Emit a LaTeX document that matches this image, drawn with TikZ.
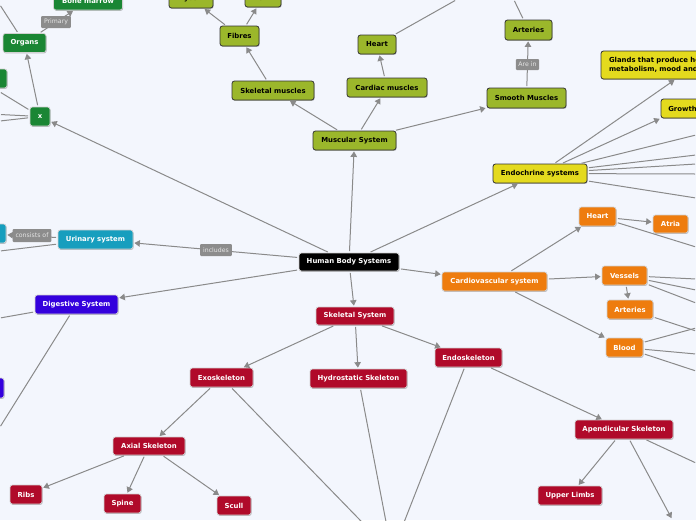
\documentclass[tikz,border=0pt]{standalone}
\usepackage{fontspec}
\setmainfont{DejaVu Sans}
\usetikzlibrary{arrows.meta,shadows}
\definecolor{bg}{RGB}{243,246,253}
\definecolor{conncol}{RGB}{138,138,138}
\definecolor{lblc}{RGB}{140,140,140}
\definecolor{cgreen}{RGB}{26,134,52}
\definecolor{colive}{RGB}{155,183,43}
\definecolor{cyellow}{RGB}{228,218,30}
\definecolor{cteal}{RGB}{23,158,190}
\definecolor{cblue}{RGB}{52,0,221}
\definecolor{corange}{RGB}{238,124,14}
\definecolor{cred}{RGB}{176,10,42}
\tikzset{
  box/.style={rounded corners=2.5pt, minimum height=19pt, inner sep=0pt,
    font=\fontsize{6.9}{8.3}\selectfont\bfseries,
    drop shadow={shadow xshift=0.6pt, shadow yshift=-0.9pt, opacity=0.25, fill=black}},
  wbox/.style={box, draw=white!82!black, line width=0.7pt, text=white, fill=#1},
  dbox/.style={box, draw=black!80, line width=0.8pt, text=black, fill=#1},
  gnode/.style={wbox=cgreen},
  mnode/.style={dbox=colive},
  ynode/.style={dbox=cyellow},
  tnode/.style={wbox=cteal},
  bnode/.style={wbox=cblue},
  onode/.style={wbox=corange},
  rnode/.style={wbox=cred},
  knode/.style={wbox=black},
  lbl/.style={fill=lblc, rounded corners=1pt, text=white!90!black,
    font=\fontsize{6.2}{7}\selectfont, inner xsep=3pt, inner ysep=0pt, minimum height=12pt},
  link/.style={draw=conncol, line width=1pt, shorten <=1.5pt, shorten >=1pt},
  arr/.style={link, -{Triangle[length=5.5pt,width=6.5pt]}},
}
\begin{document}
\begin{tikzpicture}[x=1pt,y=-1pt]
\useasboundingbox (0,0) rectangle (696,520);
\fill[bg] (0,0) rectangle (696,520);
\clip (0,0) rectangle (696,520);

% green
\node[gnode, minimum width=69pt, minimum height=18pt] (bonem) at (88,1) {Bone marrow};
\node[gnode, minimum width=43pt] (organs) at (24.5,43) {Organs};
\node[gnode, minimum width=44pt] (gleft) at (-15,78.5) {};
\node[gnode, minimum width=20pt] (xnode) at (40,116.5) {x};

% muscular
\node[mnode, minimum width=44pt] (myosin) at (191,-1.5) {Myosin};
\node[mnode, minimum width=36pt] (actin) at (263,-2.5) {Actin};
\node[mnode, minimum width=39pt, minimum height=20pt] (fibres) at (239.5,36) {Fibres};
\node[mnode, minimum width=82pt] (skm) at (273,90.5) {Skeletal muscles};
\node[mnode, minimum width=38pt] (mheart) at (377,44.5) {Heart};
\node[mnode, minimum width=80pt] (cardm) at (387,87.5) {Cardiac muscles};
\node[mnode, minimum width=83pt] (musc) at (354.5,140.5) {Muscular System};
\node[mnode, minimum width=47pt, minimum height=20pt] (marter) at (528.5,30) {Arteries};
\node[mnode, minimum width=79pt, minimum height=20pt] (smooth) at (526.5,98) {Smooth Muscles};

% endocrine
\node[ynode, minimum width=94pt] (endo) at (540,173.5) {Endochrine systems};
\node[ynode, minimum width=190pt, minimum height=28pt, text width=174pt, align=left] (glands) at (696,65) {Glands that produce hormones that\\metabolism, mood and growth};
\node[ynode, minimum width=80pt] (growth) at (701,108.5) {Growth hormone};

% centre
\node[knode, minimum width=100pt, minimum height=18pt] (hbs) at (349,262) {Human Body Systems};

% urinary / digestive
\node[tnode, minimum width=52pt] (uleft) at (-20,233.5) {};
\node[tnode, minimum width=75pt] (urin) at (95.5,239.5) {Urinary system};
\node[bnode, minimum width=83pt] (dig) at (76.5,304.5) {Digestive System};
\node[bnode, minimum width=48pt, minimum height=20pt] (dleft) at (-20,388) {};

% cardiovascular
\node[onode, minimum width=105pt] (cardio) at (494.5,281.5) {Cardiovascular system};
\node[onode, minimum width=37pt] (cheart) at (597.5,216.5) {Heart};
\node[onode, minimum width=35pt, minimum height=18pt] (atria) at (670.5,224) {Atria};
\node[onode, minimum width=45pt] (vessels) at (624.5,275.5) {Vessels};
\node[onode, minimum width=46pt] (carter) at (630,309.5) {Arteries};
\node[onode, minimum width=37pt] (blood) at (624.5,347.5) {Blood};

% skeletal
\node[rnode, minimum width=78pt, minimum height=18pt] (skel) at (355,316) {Skeletal System};
\node[rnode, minimum width=63pt] (exo) at (221.5,377.5) {Exoskeleton};
\node[rnode, minimum width=97pt] (hydro) at (358.5,378.5) {Hydrostatic Skeleton};
\node[rnode, minimum width=67pt] (endosk) at (468.5,357.5) {Endoskeleton};
\node[rnode, minimum width=72pt, minimum height=18pt] (axial) at (149,446) {Axial Skeleton};
\node[rnode, minimum width=32pt] (ribs) at (26,494.5) {Ribs};
\node[rnode, minimum width=37pt] (spine) at (122.5,503.5) {Spine};
\node[rnode, minimum width=34pt] (scull) at (234,505.5) {Scull};
\node[rnode, minimum width=98pt] (apend) at (624,429.5) {Apendicular Skeleton};
\node[rnode, minimum width=64pt] (upper) at (570,495.5) {Upper Limbs};

% free ends
\coordinate (e1) at (0,5);
\coordinate (x1) at (0,92);
\coordinate (x2) at (0,114.5);
\coordinate (x3) at (0,121);
\coordinate (mh1) at (456,0);
\coordinate (ma1) at (514,0);
\coordinate (en1) at (696,135);
\coordinate (en2) at (696,155);
\coordinate (en3) at (696,164);
\coordinate (en4) at (696,174);
\coordinate (en5) at (696,198);
\coordinate (u1) at (0,251);
\coordinate (d1) at (0,318);
\coordinate (d2) at (0,427);
\coordinate (ch1) at (696,247);
\coordinate (v1) at (696,279);
\coordinate (v2) at (696,290);
\coordinate (v3) at (696,303);
\coordinate (ca1) at (696,331);
\coordinate (b1) at (696,328);
\coordinate (b2) at (696,354);
\coordinate (b3) at (696,371);
\coordinate (bot) at (392,553);
\coordinate (ap1) at (672,519);
\coordinate (ap2) at (696,463);

% connectors
\draw[link] (organs) -- (e1);
\draw[arr] (organs) -- (bonem);
\draw[arr] (xnode) -- (organs);
\draw[link] (xnode) -- (x1);
\draw[link] (xnode) -- (x2);
\draw[link] (xnode) -- (x3);
\draw[arr] (hbs) -- (xnode);
\draw[arr] (hbs) -- (musc);
\draw[arr] (hbs) -- (endo);
\draw[arr] (hbs) -- (urin);
\draw[arr] (hbs) -- (dig);
\draw[arr] (hbs) -- (cardio);
\draw[arr] (hbs) -- (skel);

\draw[arr] (musc) -- (skm);
\draw[arr] (musc) -- (cardm);
\draw[arr] (musc) -- (smooth);
\draw[arr] (skm) -- (fibres);
\draw[arr] (fibres) -- (myosin);
\draw[arr] (fibres) -- (actin);
\draw[arr] (cardm) -- (mheart);
\draw[link] (mheart) -- (mh1);
\draw[arr] (smooth) -- (marter);
\draw[link] (marter) -- (ma1);

\draw[arr] (endo) -- (glands);
\draw[arr] (endo) -- (growth.south west);
\draw[link] (endo) -- (en1);
\draw[link] (endo) -- (en2);
\draw[link] (endo) -- (en3);
\draw[link] (endo) -- (en4);
\draw[link] (endo) -- (en5);

\draw[arr] (urin) -- (uleft);
\draw[link] (urin) -- (u1);
\draw[link] (dig) -- (d1);
\draw[link] (dig) -- (d2);

\draw[arr] (cardio) -- (cheart);
\draw[arr] (cardio) -- (vessels);
\draw[arr] (cardio) -- (blood);
\draw[arr] (cheart) -- (atria);
\draw[link] (cheart) -- (ch1);
\draw[arr] (vessels) -- (carter);
\draw[link] (vessels) -- (v1);
\draw[link] (vessels) -- (v2);
\draw[link] (vessels) -- (v3);
\draw[link] (carter) -- (ca1);
\draw[link] (blood) -- (b1);
\draw[link] (blood) -- (b2);
\draw[link] (blood) -- (b3);

\draw[arr] (skel) -- (exo);
\draw[arr] (skel) -- (hydro);
\draw[arr] (skel) -- (endosk);
\draw[arr] (exo) -- (axial);
\draw[link] (exo) -- (bot);
\draw[link] (hydro) -- (bot);
\draw[link] (endosk) -- (bot);
\draw[arr] (endosk) -- (apend);
\draw[arr] (axial) -- (ribs);
\draw[arr] (axial) -- (spine);
\draw[arr] (axial) -- (scull);
\draw[arr] (apend) -- (upper);
\draw[arr] (apend) -- (ap1);
\draw[link] (apend) -- (ap2);

% connector labels
\node[lbl] (lprim) at (56,22) {Primary};
\node[lbl, minimum height=11pt, inner xsep=2.5pt] (lare) at (527.5,64.5) {Are in};
\node[lbl] (lincl) at (216,250) {includes};
\node[lbl, minimum height=13pt] (lcons) at (32,235.5) {consists of};
\end{tikzpicture}
\end{document}
